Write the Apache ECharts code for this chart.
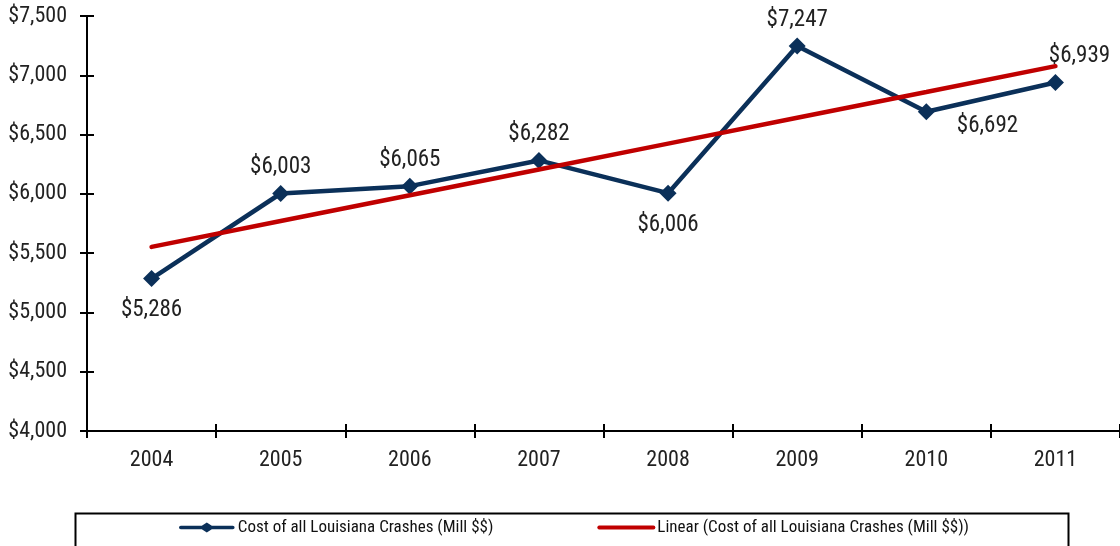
<!DOCTYPE html>
<html><head><meta charset="utf-8">
<script src="https://cdn.jsdelivr.net/npm/echarts@6/dist/echarts.min.js"></script>
<style>html,body{margin:0;padding:0;background:#fff}#c{width:1120px;height:546px}</style>
</head><body><div id="c"></div>
<script>
const categories = ['2004','2005','2006','2007','2008','2009','2010','2011'];
const costValues = [5286, 6003, 6065, 6282, 6006, 7247, 6692, 6939];
const trendValues = [5553, 5771, 5988, 6206, 6424, 6642, 6859, 7077];
const labelPositions = ['bottom','top','top','top','bottom','top','right','top'];
const seriesNames = ['Cost of all Louisiana Crashes (Mill $$)', 'Linear (Cost of all Louisiana Crashes (Mill $$))'];

const FONT = '"Liberation Sans Narrow","Arial Narrow","Roboto Condensed",sans-serif';
const NAVY = '#0b3059';
const RED = '#c00000';
const fmt = v => '$' + v.toLocaleString('en-US');

function labelFor(pos, i) {
  if (pos === 'right') return {position: 'right', distance: 22, offset: [0, 14]};
  if (pos === 'top') return {position: 'top', distance: 6, offset: i === categories.length - 1 ? [24, 0] : [0, 0]};
  return {position: 'bottom', distance: 12, offset: [0, 0]};
}

const chart = echarts.init(document.getElementById('c'), null, {renderer: 'canvas'});
const axisLine = {show: true, lineStyle: {color: '#000', width: 2}};
chart.setOption({
  animation: false,
  textStyle: {fontFamily: FONT},
  grid: {left: 87, top: 16, width: 1040, height: 415, containLabel: false},
  graphic: [{type: 'rect', left: 73, top: 511, shape: {width: 993, height: 60},
    style: {fill: 'none', stroke: '#000', lineWidth: 2}, z: 0}],
  xAxis: [
    {type: 'category', data: categories, boundaryGap: true,
     axisLine: axisLine,
     axisTick: {show: true, inside: false, length: 7, lineStyle: {color: '#000', width: 2}},
     axisLabel: {color: '#222', fontSize: 22, fontFamily: FONT, margin: 18}},
    {type: 'category', data: categories, boundaryGap: true, position: 'bottom',
     axisLine: {show: false},
     axisTick: {show: true, inside: true, length: 7, lineStyle: {color: '#000', width: 2}},
     axisLabel: {show: false}}
  ],
  yAxis: [
    {type: 'value', min: 4000, max: 7500, interval: 500,
     axisLine: axisLine,
     axisTick: {show: true, inside: false, length: 7, lineStyle: {color: '#000', width: 2}},
     splitLine: {show: false},
     axisLabel: {color: '#222', fontSize: 22, fontFamily: FONT, margin: 20, formatter: v => fmt(v)}},
    {type: 'value', min: 4000, max: 7500, interval: 500, position: 'left',
     axisLine: {show: false},
     axisTick: {show: true, inside: true, length: 7, lineStyle: {color: '#000', width: 2}},
     splitLine: {show: false},
     axisLabel: {show: false}}
  ],
  legend: {
    top: 519, left: 179,
    padding: 0,
    itemGap: 104,
    itemWidth: 58, itemHeight: 10,
    textStyle: {fontSize: 17, color: '#111', fontFamily: FONT, padding: [0,0,0,-3]},
    data: [
      {name: seriesNames[0], icon: 'path://M3,3.2 L24,3.2 L29,0 L34,3.2 L55,3.2 A1.8,1.8 0 0 1 55,6.8 L34,6.8 L29,10 L24,6.8 L3,6.8 A1.8,1.8 0 0 1 3,3.2 Z', itemStyle: {color: NAVY}},
      {name: seriesNames[1], icon: 'path://M3,3.2 L55,3.2 A1.8,1.8 0 0 1 55,6.8 L3,6.8 A1.8,1.8 0 0 1 3,3.2 Z', itemStyle: {color: RED}}
    ]
  },
  series: [
    {name: seriesNames[0], type: 'line',
     data: costValues.map((v, i) => ({value: v, label: labelFor(labelPositions[i], i)})),
     symbol: 'diamond', symbolSize: 17,
     lineStyle: {color: NAVY, width: 4.5},
     itemStyle: {color: NAVY},
     label: {show: true, color: '#222', fontSize: 23, fontFamily: FONT, formatter: p => fmt(p.value)},
     z: 3},
    {name: seriesNames[1], type: 'line', data: trendValues,
     symbol: 'none', lineStyle: {color: RED, width: 4.5, cap: 'round'}, z: 4}
  ]
});
</script></body></html>
